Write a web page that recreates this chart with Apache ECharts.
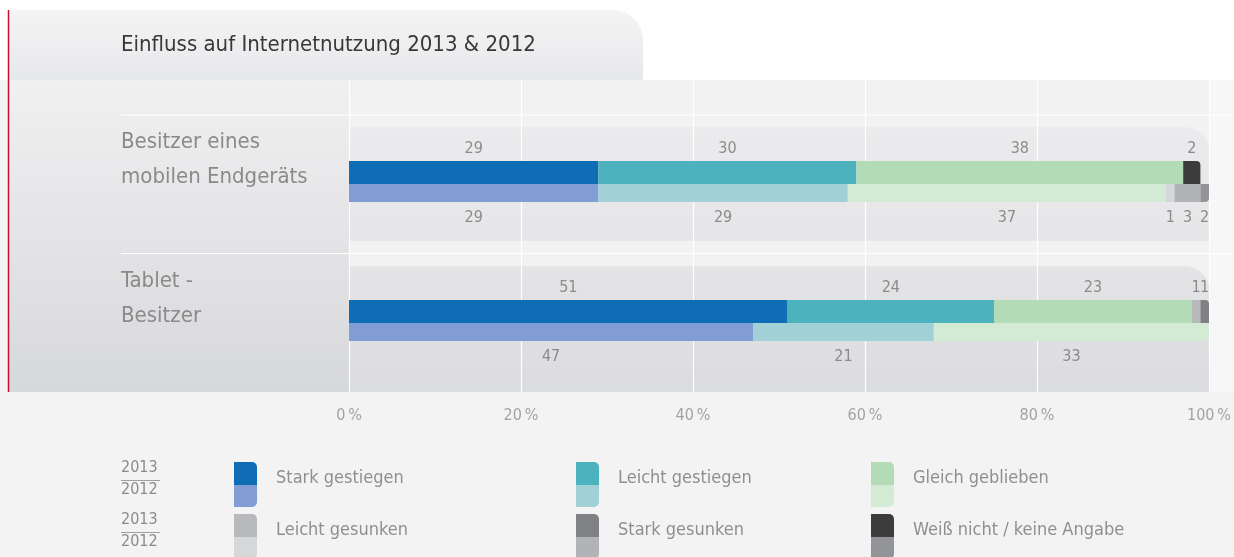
<!DOCTYPE html>
<html>
<head>
<meta charset="utf-8">
<title>Einfluss auf Internetnutzung 2013 & 2012</title>
<script src="https://cdn.jsdelivr.net/npm/echarts@6/dist/echarts.min.js"></script>
<style>
  html, body { margin: 0; padding: 0; background: #ffffff; }
  #chart { width: 1234px; height: 557px; }
</style>
</head>
<body>
<div id="chart"></div>
<script>
// ---- data ----
const title = 'Einfluss auf Internetnutzung 2013 & 2012';
const groups = ['Besitzer eines\nmobilen Endgeräts', 'Tablet -\nBesitzer'];
const years = ['2013', '2012'];
const answers = ['Stark gestiegen', 'Leicht gestiegen', 'Gleich geblieben',
                 'Leicht gesunken', 'Stark gesunken', 'Weiß nicht / keine Angabe'];
// shares in %, one entry per answer (same order as answers)
const mobile2013 = [29, 30, 38, 0, 0, 2];
const mobile2012 = [29, 29, 37, 1, 3, 2];
const tablet2013 = [51, 24, 23, 1, 1, 0];
const tablet2012 = [47, 21, 33, 0, 0, 0];
const xTicks = [0, 20, 40, 60, 80, 100];

// ---- styling ----
const colors2013 = ['#0e6db5', '#4cb2bd', '#b2dbb6', '#b8b9bc', '#808184', '#3c3c3c'];
const colors2012 = ['#819dd3', '#a1d1d6', '#d3ebd5', '#d6d7d9', '#b2b3b6', '#939497'];
const FONT = '"Liberation Sans Narrow", "DejaVu Sans Condensed", "Open Sans", sans-serif';
const textGrey = '#8b8b8b';

const chart = echarts.init(document.getElementById('chart'), null, { renderer: 'canvas' });

// last non-empty segment of a row gets a rounded outer corner
function rowData(rowValues, answerIdx, radius) {
  const last = rowValues.reduce((acc, v, i) => (v > 0 ? i : acc), -1);
  const v = rowValues[answerIdx];
  return answerIdx === last ? { value: v, itemStyle: { borderRadius: radius } } : v;
}

function makeSeries(yearIdx) {
  const is2013 = yearIdx === 0;
  const rows = is2013 ? [mobile2013, tablet2013] : [mobile2012, tablet2012];
  const radius = is2013 ? [0, 4, 0, 0] : [0, 0, 4, 0];
  return answers.map((name, i) => ({
    name: name + ' ' + years[yearIdx],
    type: 'bar',
    xAxisIndex: 1,
    yAxisIndex: 1,
    stack: 'y' + years[yearIdx],
    barWidth: is2013 ? 23 : 18,
    barGap: '0%',
    clip: true,
    itemStyle: { color: (is2013 ? colors2013 : colors2012)[i] },
    label: {
      show: true,
      position: is2013 ? 'top' : 'bottom',
      distance: is2013 ? 4 : 8,
      color: textGrey,
      fontFamily: FONT,
      fontSize: 16,
      formatter: p => (p.value > 0 ? String(p.value) : '')
    },
    data: rows.map(r => rowData(r, i, radius))
  }));
}

// ---- background shapes and legend ----
const graphics = [];
const bg = (shape, fill, extra) => Object.assign({ type: 'rect', silent: true, z: -20, shape, style: { fill } }, extra || {});
const vgrad = (a, b) => new echarts.graphic.LinearGradient(0, 0, 0, 1, [{ offset: 0, color: a }, { offset: 1, color: b }]);

graphics.push(bg({ x: 0, y: 80, width: 1234, height: 477 }, '#f3f3f4'));
graphics.push(bg({ x: 1210, y: 80, width: 24, height: 312 }, '#f7f7f7'));
graphics.push(bg({ x: 8, y: 10, width: 635, height: 70, r: [0, 30, 0, 0] }, vgrad('#f4f4f5', '#e7e8ea')));
graphics.push(bg({ x: 8, y: 80, width: 341, height: 312 }, vgrad('#f0f0f1', '#d7d8db')));
graphics.push(bg({ x: 349, y: 80, width: 861, height: 312 }, '#f2f2f3'));
graphics.push(bg({ x: 349, y: 127, width: 861, height: 114, r: [0, 26, 0, 0] }, vgrad('#ebebed', '#e6e6e8')));
graphics.push(bg({ x: 349, y: 266, width: 861, height: 126, r: [0, 26, 0, 0] }, vgrad('#e4e4e6', '#dbdcdf')));
[115, 253.5].forEach(y => graphics.push({
  type: 'line', silent: true, z: -10,
  shape: { x1: 121, y1: y, x2: 1234, y2: y },
  style: { stroke: '#ffffff', lineWidth: 1.2 }
}));
graphics.push({
  type: 'line', silent: true, z: 50,
  shape: { x1: 8.5, y1: 10, x2: 8.5, y2: 392 },
  style: { stroke: '#c8102e', lineWidth: 1.5 }
});
graphics.push({
  type: 'text', silent: true, left: 121, top: 34,
  style: { text: title, fill: '#383838', font: '22px ' + FONT }
});

// legend: two-tone swatch (2013 above, 2012 below) per answer
const legendCols = [234, 576, 871];
const legendRows = [462, 514];
legendRows.forEach(rowY => {
  graphics.push({ type: 'text', silent: true, left: 121, top: rowY - 2,
    style: { text: years[0], fill: textGrey, font: '16px ' + FONT } });
  graphics.push({ type: 'line', silent: true,
    shape: { x1: 121, y1: rowY + 18.5, x2: 160, y2: rowY + 18.5 },
    style: { stroke: '#a0a0a0', lineWidth: 1 } });
  graphics.push({ type: 'text', silent: true, left: 121, top: rowY + 20,
    style: { text: years[1], fill: textGrey, font: '16px ' + FONT } });
});
answers.forEach((name, i) => {
  const x = legendCols[i % 3];
  const y = legendRows[Math.floor(i / 3)];
  graphics.push({ type: 'rect', silent: true, shape: { x, y, width: 23, height: 23, r: [0, 5, 0, 0] },
    style: { fill: colors2013[i] } });
  graphics.push({ type: 'rect', silent: true, shape: { x, y: y + 23, width: 23, height: 22, r: [0, 0, 5, 0] },
    style: { fill: colors2012[i] } });
  graphics.push({ type: 'text', silent: true, left: x + 42, top: y + 7,
    style: { text: name, fill: '#8f8f8f', font: '18px ' + FONT } });
});

const option = {
  animation: false,
  backgroundColor: 'transparent',
  grid: [
    { left: 349, right: 25, top: 80, height: 312 },
    { left: 349, right: 25, top: 112, height: 278 }
  ],
  xAxis: [
    {
      gridIndex: 0, type: 'value', min: xTicks[0], max: xTicks[xTicks.length - 1], interval: xTicks[1] - xTicks[0],
      axisLine: { show: false }, axisTick: { show: false },
      splitLine: { show: true, lineStyle: { color: '#ffffff', width: 1.2 } },
      axisLabel: { margin: 16, color: '#a3a3a3', fontFamily: FONT, fontSize: 16, formatter: '{value}\u2009%' }
    },
    { gridIndex: 1, type: 'value', min: 0, max: 100, show: false }
  ],
  yAxis: [
    { gridIndex: 0, type: 'category', data: [''], show: false },
    {
      gridIndex: 1, type: 'category', data: groups, inverse: true,
      axisLine: { show: false }, axisTick: { show: false }, splitLine: { show: false },
      axisLabel: {
        align: 'left', margin: 228, verticalAlign: 'middle',
        // two text lines followed by a spacer line lift the label above the bar centre
        formatter: v => v.split('\n').map(s => '{t|' + s + '}').join('\n') + '\n{gap| }',
        rich: {
          t: { color: '#8a8a8a', fontFamily: FONT, fontSize: 22, lineHeight: 35 },
          gap: { fontSize: 10, lineHeight: 44 }
        }
      }
    }
  ],
  graphic: graphics,
  series: makeSeries(0).concat(makeSeries(1))
};

chart.setOption(option);
</script>
</body>
</html>
